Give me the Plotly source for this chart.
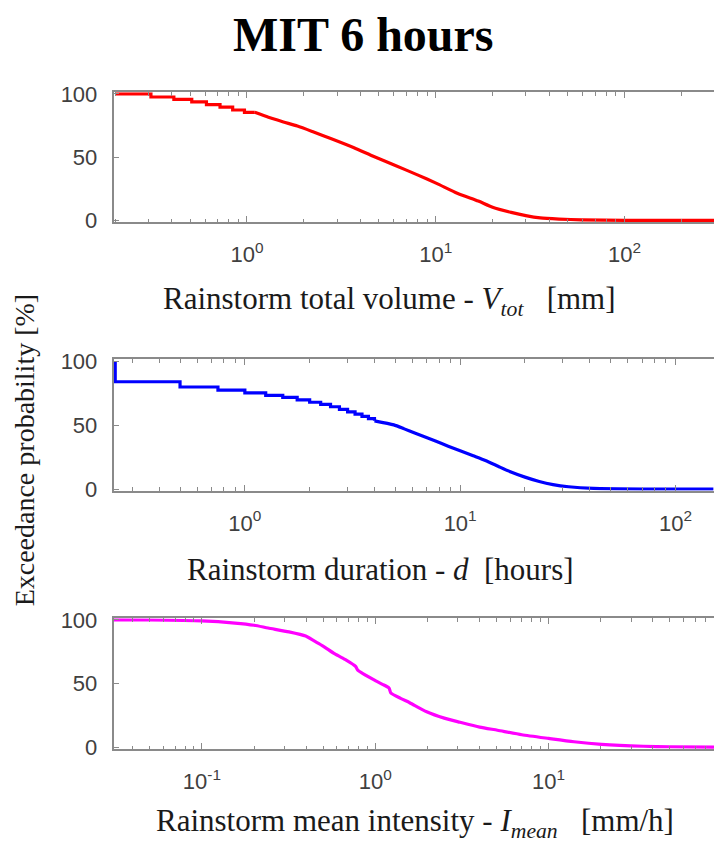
import numpy as np
import plotly.graph_objects as go

# ---- data: empirical exceedance curves (MIT 6 hours) ----
# Rainstorm total volume [mm]: stepped low end, then smooth tail
vol_step_mm = [0.2, 0.31, 0.31, 0.41, 0.41, 0.51, 0.51, 0.61, 0.61, 0.72, 0.72,
               0.84, 0.84, 0.97, 0.97, 1.1]
vol_step_pct = [100, 100, 97.5, 97.5, 95.6, 95.6, 93.6, 93.6, 91.5, 91.5, 89.5,
                89.5, 87.2, 87.2, 85.4, 85.4]
vol_mm = [1.1, 1.3, 1.56, 1.85, 2.22, 2.8, 3.69, 4.7, 6.11, 8.0, 10.1, 13.0,
          16.8, 20.0, 25.1, 30.0, 35.8, 45.0, 59.3, 100, 300]
vol_pct = [85.4, 81.5, 77.8, 74.5, 70.2, 64.5, 57.4, 50.5, 43.4, 36.0, 29.3,
           21.5, 15.3, 10.5, 6.4, 3.8, 2.0, 1.1, 0.5, 0.1, 0.0]

# Rainstorm duration [hours]: 15-minute steps, then smooth tail
dur_step_h = [0.25, 0.25, 0.5, 0.5, 0.75, 0.75, 1.0, 1.0, 1.25, 1.25, 1.5, 1.5,
              1.75, 1.75, 2.0, 2.0, 2.25, 2.25, 2.5, 2.5, 2.75, 2.75, 3.0, 3.0,
              3.25, 3.25, 3.5, 3.5, 3.75, 3.75, 4.0, 4.0]
dur_step_pct = [100, 83.8, 83.8, 79.7, 79.7, 77.2, 77.2, 75.2, 75.2, 73.2, 73.2,
                71.6, 71.6, 69.6, 69.6, 67.8, 67.8, 66.1, 66.1, 64.3, 64.3, 62.3,
                62.3, 60.3, 60.3, 58.6, 58.6, 56.8, 56.8, 55.0, 55.0, 53.3]
dur_h = [4.0, 4.92, 5.5, 6.15, 7.68, 8.8, 10.0, 11.5, 13.1, 15.0, 17.1, 20.0,
         23.3, 27.0, 31.9, 41.6, 71.0, 150]
dur_pct = [53.3, 50.1, 47.0, 43.8, 37.5, 33.5, 29.9, 26.0, 22.3, 17.8, 13.5,
           9.3, 5.9, 3.5, 1.8, 0.5, 0.0, 0.0]

# Rainstorm mean intensity [mm/h]
int_mmh = [0.0309, 0.05, 0.1, 0.155, 0.2, 0.241, 0.318, 0.397, 0.444, 0.5,
           0.585, 0.68, 0.77, 0.792, 1.0, 1.1, 1.2, 1.23, 1.4, 1.58, 1.98,
           2.5, 3.08, 4.0, 5.07, 7.0, 10.0, 14.0, 20.2, 35.2, 50.0, 91.0]
int_pct = [100, 99.9, 99.2, 97.5, 95.8, 93.6, 90.6, 87.3, 83.5, 79.5, 73.3,
           68.5, 63.6, 60.6, 52.4, 49.5, 46.6, 42.7, 38.5, 35.1, 28.0, 23.0,
           19.8, 16.0, 13.5, 10.0, 7.1, 4.5, 2.5, 1.0, 0.6, 0.3]

# ---- figure geometry (pixels) ----
W, H = 714, 853
PLOT_LEFT = 113.5
Y_PAD = 1.2  # keep thick lines at 0 and 100 fully visible

panels = [
    dict(parts=[(vol_step_mm, vol_step_pct, "linear"), (vol_mm, vol_pct, "spline")],
         color="#ff0000", xr=(np.log10(0.2) - 0.008, 2.474), majors=[1, 10, 100],
         top=85.0, bot=215.0),
    dict(parts=[(dur_step_h, dur_step_pct, "linear"), (dur_h, dur_pct, "spline")],
         color="#0000ff", xr=(np.log10(0.25) - 0.008, 2.179), majors=[1, 10, 100],
         top=359.3, bot=490.7),
    dict(parts=[(int_mmh, int_pct, "spline")],
         color="#ff00ff", xr=(-1.51, 1.954), majors=[0.1, 1, 10],
         top=625.0, bot=756.0),
]

xlabels = [
    ("Rainstorm total volume - <i>V</i><sub><i>tot</i></sub>\u00a0\u00a0\u00a0[mm]", 390, 298),
    ("Rainstorm duration - <i>d</i>\u00a0\u00a0[hours]", 380, 573),
    ("Rainstorm mean intensity - <i>I</i><sub><i>mean</i></sub>\u00a0\u00a0\u00a0[mm/h]", 415, 833),
]

AX_COLOR = "#8a8a8a"
TICK_FONT = dict(family="Liberation Sans, Arial, sans-serif", size=22, color="#404040")
SERIF = "Liberation Serif, Times New Roman, serif"


def sup_label(v):
    e = int(round(np.log10(v)))
    s = str(e) if e >= 0 else "-" + str(-e)
    return "10<sup>" + s + "</sup>"


def minor_vals(lo, hi):
    out = []
    for e in range(int(np.floor(lo)) - 1, int(np.ceil(hi)) + 1):
        for k in range(2, 10):
            v = k * 10.0 ** e
            if lo <= np.log10(v) <= hi:
                out.append(v)
    return out


fig = go.Figure()
layout = dict(
    width=W, height=H,
    margin=dict(l=0, r=0, t=0, b=0),
    paper_bgcolor="white", plot_bgcolor="white",
    showlegend=False,
)

for i, p in enumerate(panels):
    n = "" if i == 0 else str(i + 1)
    for xs, ys, shape in p["parts"]:
        fig.add_trace(go.Scatter(
            x=xs, y=ys, mode="lines",
            line=dict(color=p["color"], width=3.2, shape=shape, smoothing=0.6),
            xaxis="x" + n, yaxis="y" + n, hoverinfo="skip",
        ))
    px_per_unit = (p["bot"] - p["top"]) / 100.0
    d_top = p["top"] - Y_PAD * px_per_unit
    d_bot = p["bot"] + Y_PAD * px_per_unit
    layout["xaxis" + n] = dict(
        type="log", range=list(p["xr"]),
        domain=[PLOT_LEFT / W, 1.0],
        anchor="y" + n,
        tickmode="array", tickvals=p["majors"],
        ticktext=[sup_label(v) for v in p["majors"]],
        ticks="inside", ticklen=6, tickwidth=1.2, tickcolor=AX_COLOR,
        minor=dict(tickmode="array", tickvals=minor_vals(*p["xr"]),
                   ticks="inside", ticklen=3.5, tickwidth=1.2, tickcolor=AX_COLOR),
        showline=True, linecolor=AX_COLOR, linewidth=1.5, mirror="allticks",
        showgrid=False, zeroline=False,
        tickfont=TICK_FONT, ticklabelstandoff=12,
    )
    layout["yaxis" + n] = dict(
        range=[-Y_PAD, 100 + Y_PAD],
        domain=[1 - d_bot / H, 1 - d_top / H],
        anchor="x" + n,
        tickmode="array", tickvals=[0, 50, 100], ticktext=["0", "50", "100"],
        ticks="inside", ticklen=6, tickwidth=1.2, tickcolor=AX_COLOR,
        showline=True, linecolor=AX_COLOR, linewidth=1.5, mirror=False,
        showgrid=False, zeroline=False,
        tickfont=TICK_FONT, ticklabelstandoff=10,
    )

annotations = [
    dict(text="<b>MIT 6 hours</b>", x=363 / W, y=1 - 24 / H, xref="paper", yref="paper",
         showarrow=False, xanchor="center", yanchor="middle",
         font=dict(family=SERIF, size=48, color="black")),
    dict(text="Exceedance probability [%]", x=24 / W, y=1 - 451 / H,
         xref="paper", yref="paper", showarrow=False, textangle=-90,
         xanchor="center", yanchor="middle",
         font=dict(family=SERIF, size=28, color="#1a1a1a")),
]
for txt, cx, cy in xlabels:
    annotations.append(dict(text=txt, x=cx / W, y=1 - cy / H, xref="paper", yref="paper",
                            showarrow=False, xanchor="center", yanchor="middle",
                            font=dict(family=SERIF, size=31, color="#1a1a1a")))
layout["annotations"] = annotations

fig.update_layout(**layout)
fig.write_html("out.html")
